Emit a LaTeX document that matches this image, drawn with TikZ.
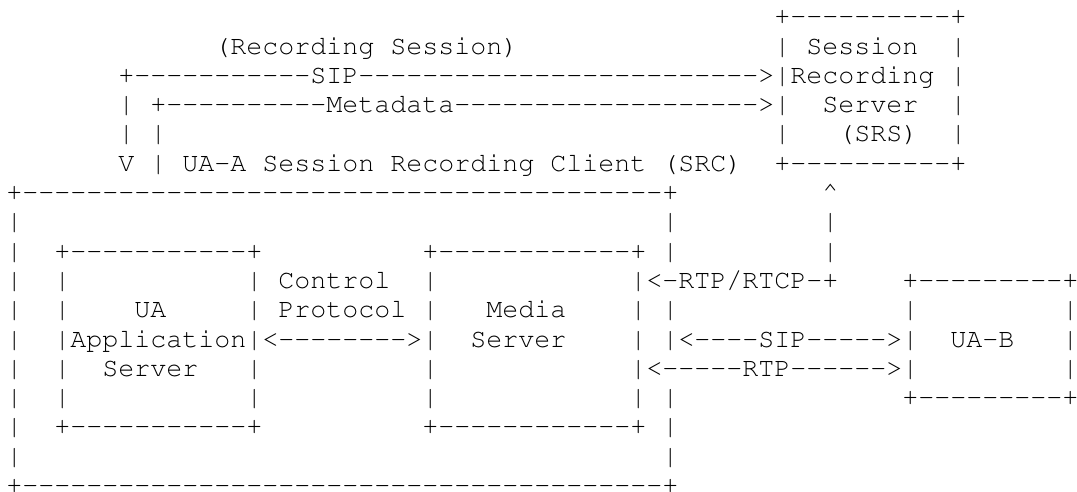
\documentclass[tikz,border=0pt]{standalone}
\usepackage[T1]{fontenc}
\usepackage{courier}
\newcommand{\dsh}[1]{\foreach \n in {1,...,#1}{-}}
\tikzset{
  ascii/.style={font=\ttfamily\fontsize{13.333pt}{14.65pt}\selectfont, inner sep=0pt, anchor=base west}
}
\begin{document}
\begin{tikzpicture}[x=8pt, y=-14.65pt]
			\useasboundingbox (-0.375,-0.843) rectangle (66.9375,15.915);
			% Session Recording Server
			\node[ascii] (srsTop) at (48,0) {+\dsh{10}+};
			\node[ascii] (srsBot) at (48,5) {+\dsh{10}+};
			\foreach \r in {1,...,4} {
				\node[ascii] (srsL\r) at (48,\r) {|};
				\node[ascii] (srsR\r) at (59,\r) {|};
			}
			\node[ascii] (srsSession) at (50,1) {Session};
			\node[ascii] (srsRecording) at (49,2) {Recording};
			\node[ascii] (srsServer) at (51,3) {Server};
			\node[ascii] (srsName) at (52,4) {(SRS)};
			% recording session
			\node[ascii] (recSession) at (13,1) {(Recording Session)};
			\node[ascii] (recSip) at (7,2) {+\dsh{11}SIP\dsh{25}>};
			\node[ascii] (recSip3) at (7,3) {|};
			\node[ascii] (recSip4) at (7,4) {|};
			\node[ascii] (recSipV) at (7,5) {V};
			\node[ascii] (recMeta) at (9,3) {+\dsh{10}Metadata\dsh{19}>};
			\node[ascii] (recMeta4) at (9,4) {|};
			\node[ascii] (recMeta5) at (9,5) {|};
			% Session Recording Client
			\node[ascii] (srcName) at (11,5) {UA-A Session Recording Client (SRC)};
			\node[ascii] (srcTop) at (0,6) {+\dsh{40}+};
			\node[ascii] (srcBot) at (0,16) {+\dsh{40}+};
			\foreach \r in {7,...,15}
				\node[ascii] (srcL\r) at (0,\r) {|};
			\foreach \r in {7,8,10,11,13,14,15}
				\node[ascii] (srcR\r) at (41,\r) {|};
			% UA Application Server
			\node[ascii] (uaTop) at (3,8) {+\dsh{11}+};
			\node[ascii] (uaBot) at (3,14) {+\dsh{11}+};
			\foreach \r in {9,...,13} {
				\node[ascii] (uaL\r) at (3,\r) {|};
				\node[ascii] (uaR\r) at (15,\r) {|};
			}
			\node[ascii] (uaUA) at (8,10) {UA};
			\node[ascii] (uaApp) at (4,11) {Application};
			\node[ascii] (uaServer) at (6,12) {Server};
			% Media Server
			\node[ascii] (msTop) at (26,8) {+\dsh{12}+};
			\node[ascii] (msBot) at (26,14) {+\dsh{12}+};
			\foreach \r in {9,...,13} {
				\node[ascii] (msL\r) at (26,\r) {|};
				\node[ascii] (msR\r) at (39,\r) {|};
			}
			\node[ascii] (msMedia) at (30,10) {Media};
			\node[ascii] (msServer) at (29,11) {Server};
			\node[ascii] (ctrl) at (17,9) {Control};
			\node[ascii] (ctrlProto) at (17,10) {Protocol};
			\node[ascii] (ctrlArrow) at (16,11) {<\dsh{8}>};
			% UA-B
			\node[ascii] (ubTop) at (56,9) {+\dsh{9}+};
			\node[ascii] (ubBot) at (56,13) {+\dsh{9}+};
			\foreach \r in {10,...,12} {
				\node[ascii] (ubL\r) at (56,\r) {|};
				\node[ascii] (ubR\r) at (66,\r) {|};
			}
			\node[ascii] (ubName) at (59,11) {UA-B};
			% media towards SRS and UA-B
			\node[ascii] (rtcp) at (40,9) {<-RTP/RTCP-+};
			\node[ascii] (rtcp8) at (51,8) {|};
			\node[ascii] (rtcp7) at (51,7) {|};
			\node[ascii] (rtcpUp) at (51,6) {\textasciicircum};
			\node[ascii] (sipB) at (42,11) {<\dsh{4}SIP\dsh{5}>};
			\node[ascii] (rtpB) at (40,12) {<\dsh{5}RTP\dsh{6}>};
		\end{tikzpicture}
\end{document}
